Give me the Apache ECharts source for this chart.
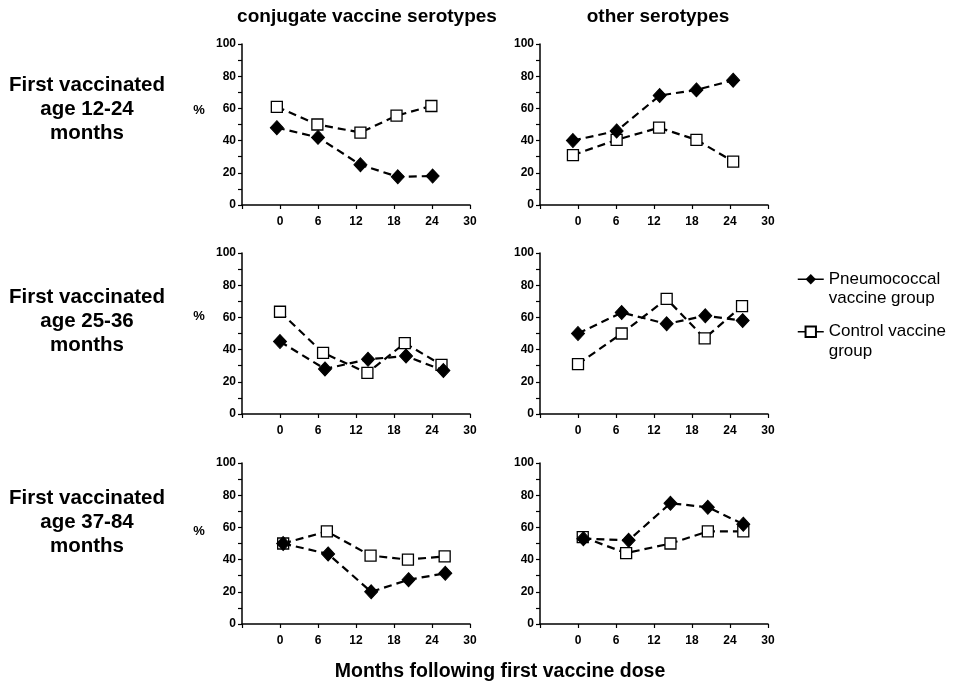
<!DOCTYPE html>
<html>
<head>
<meta charset="utf-8">
<script src="https://cdn.jsdelivr.net/npm/echarts@6/dist/echarts.min.js"></script>
<style>html,body{margin:0;padding:0;background:#fff}#c{width:953px;height:687px}</style>
</head>
<body>
<div id="c"></div>
<script>
// ---- data (months, % values) ----
var columnTitles = ['conjugate vaccine serotypes', 'other serotypes'];
var rowLabels = ['First vaccinated\nage 12-24\nmonths', 'First vaccinated\nage 25-36\nmonths', 'First vaccinated\nage 37-84\nmonths'];
var xTicks = [0, 6, 12, 18, 24, 30];
var seriesNames = ['Pneumococcal vaccine group', 'Control vaccine group'];

// row 1: age 12-24
var r1cPneuX = [-0.5, 6, 12.7, 18.6, 24.1];
var r1cPneuY = [48, 42, 25, 17.5, 18];
var r1cCtrlX = [-0.5, 5.9, 12.7, 18.4, 23.9];
var r1cCtrlY = [61, 50, 45, 55.5, 61.5];
var r1oPneuX = [-0.8, 6.1, 12.9, 18.7, 24.5];
var r1oPneuY = [40, 46, 68, 71.5, 77.5];
var r1oCtrlX = [-0.8, 6.1, 12.8, 18.7, 24.5];
var r1oCtrlY = [31, 40.5, 48, 40.5, 27];
// row 2: age 25-36
var r2cPneuX = [0, 7.1, 13.9, 19.9, 25.8];
var r2cPneuY = [45, 28, 34, 36, 27];
var r2cCtrlX = [0, 6.8, 13.8, 19.7, 25.5];
var r2cCtrlY = [63.5, 38, 25.5, 44, 30.5];
var r2oPneuX = [0, 6.9, 14, 20.1, 26];
var r2oPneuY = [50, 63, 56, 61, 58];
var r2oCtrlX = [0, 6.9, 14, 20, 25.9];
var r2oCtrlY = [31, 50, 71.5, 47, 67];
// row 3: age 37-84
var r3cPneuX = [0.5, 7.6, 14.4, 20.3, 26.1];
var r3cPneuY = [50, 43.5, 20, 27.5, 31.5];
var r3cCtrlX = [0.5, 7.4, 14.3, 20.2, 26];
var r3cCtrlY = [50, 57.5, 42.5, 40, 42];
var r3oPneuX = [0.85, 8, 14.6, 20.5, 26.1];
var r3oPneuY = [53, 52, 75, 72.5, 62];
var r3oCtrlX = [0.75, 7.6, 14.6, 20.5, 26.1];
var r3oCtrlY = [54, 44, 50, 57.5, 57.5];

var panels = [
  [r1cPneuX, r1cPneuY, r1cCtrlX, r1cCtrlY],
  [r1oPneuX, r1oPneuY, r1oCtrlX, r1oCtrlY],
  [r2cPneuX, r2cPneuY, r2cCtrlX, r2cCtrlY],
  [r2oPneuX, r2oPneuY, r2oCtrlX, r2oCtrlY],
  [r3cPneuX, r3cPneuY, r3cCtrlX, r3cCtrlY],
  [r3oPneuX, r3oPneuY, r3oCtrlX, r3oCtrlY]
];

function zip(xs, ys) { return xs.map(function (x, i) { return [x, ys[i]]; }); }

var FONT = 'Liberation Sans, Arial, sans-serif';
var colLeft = [242, 540];
var rowTop = [44, 253, 463];
var grids = [], xAxes = [], yAxes = [], series = [];
for (var p = 0; p < 6; p++) {
  var r = Math.floor(p / 2), c = p % 2;
  grids.push({ left: colLeft[c], top: rowTop[r], width: 228, height: 161 });
  xAxes.push({
    type: 'value', gridIndex: p, min: -6, max: 30, interval: 6,
    axisLine: { onZero: false, lineStyle: { color: '#000', width: 1.5 } },
    axisTick: { show: true, length: 4, lineStyle: { color: '#000', width: 1.2 } },
    splitLine: { show: false },
    axisLabel: {
      margin: 11, color: '#000', fontWeight: 'bold', fontSize: 12, fontFamily: FONT,
      formatter: function (v) { return xTicks.indexOf(v) >= 0 ? String(v) : ''; }
    }
  });
  yAxes.push({
    type: 'value', gridIndex: p, min: 0, max: 100, interval: 20,
    axisLine: { show: true, onZero: false, lineStyle: { color: '#000', width: 1.5 } },
    axisTick: { show: true, length: 4, lineStyle: { color: '#000', width: 1.2 } },
    minorTick: { show: true, splitNumber: 2, length: 4, lineStyle: { color: '#000', width: 1.2 } },
    splitLine: { show: false },
    axisLabel: { margin: 6, color: '#000', fontWeight: 'bold', fontSize: 12, fontFamily: FONT }
  });
  var d = panels[p];
  series.push({
    name: seriesNames[1], type: 'line', xAxisIndex: p, yAxisIndex: p,
    data: zip(d[2], d[3]), symbol: 'rect', symbolSize: 11,
    itemStyle: { color: '#fff', borderColor: '#000', borderWidth: 1.3 },
    lineStyle: { color: '#000', width: 2.2, type: [8, 5] }, z: 2
  });
  series.push({
    name: seriesNames[0], type: 'line', xAxisIndex: p, yAxisIndex: p,
    data: zip(d[0], d[1]), symbol: 'diamond', symbolSize: [13, 14],
    itemStyle: { color: '#000', borderColor: '#000' },
    lineStyle: { color: '#000', width: 2.2, type: [8, 5] }, z: 3
  });
}

var graphics = [];
var colCenter = [367, 658];
columnTitles.forEach(function (t, i) {
  graphics.push({ type: 'text', x: colCenter[i], y: 17,
    style: { text: t, fill: '#000', font: 'bold 19px ' + FONT, textAlign: 'center', textVerticalAlign: 'middle' } });
});
var rowCenter = [109, 321, 522];
var pctY = [110, 316, 531];
rowLabels.forEach(function (t, i) {
  graphics.push({ type: 'text', x: 87, y: rowCenter[i],
    style: { text: t, fill: '#000', font: 'bold 20.5px ' + FONT, lineHeight: 24, textAlign: 'center', textVerticalAlign: 'middle' } });
  graphics.push({ type: 'text', x: 199, y: pctY[i],
    style: { text: '%', fill: '#000', font: 'bold 13px ' + FONT, textAlign: 'center', textVerticalAlign: 'middle' } });
});
graphics.push({ type: 'text', x: 500, y: 672,
  style: { text: 'Months following first vaccine dose', fill: '#000', font: 'bold 19.5px ' + FONT, textAlign: 'center', textVerticalAlign: 'middle' } });

var chart = echarts.init(document.getElementById('c'), null, { renderer: 'canvas' });
chart.setOption({
  backgroundColor: '#fff',
  animation: false,
  grid: grids, xAxis: xAxes, yAxis: yAxes, series: series,
  legend: {
    data: seriesNames, orient: 'vertical', left: 797, top: 250, padding: 0,
    itemWidth: 26, itemHeight: 13, itemGap: -6,
    lineStyle: { type: 'solid', width: 1.5 },
    textStyle: { fontSize: 17, fontFamily: FONT, color: '#000', lineHeight: 19.5 },
    formatter: function (n) { return n === seriesNames[0] ? '\nPneumococcal\nvaccine group' : '\nControl vaccine\ngroup'; }
  },
  graphic: graphics
});
</script>
</body>
</html>
